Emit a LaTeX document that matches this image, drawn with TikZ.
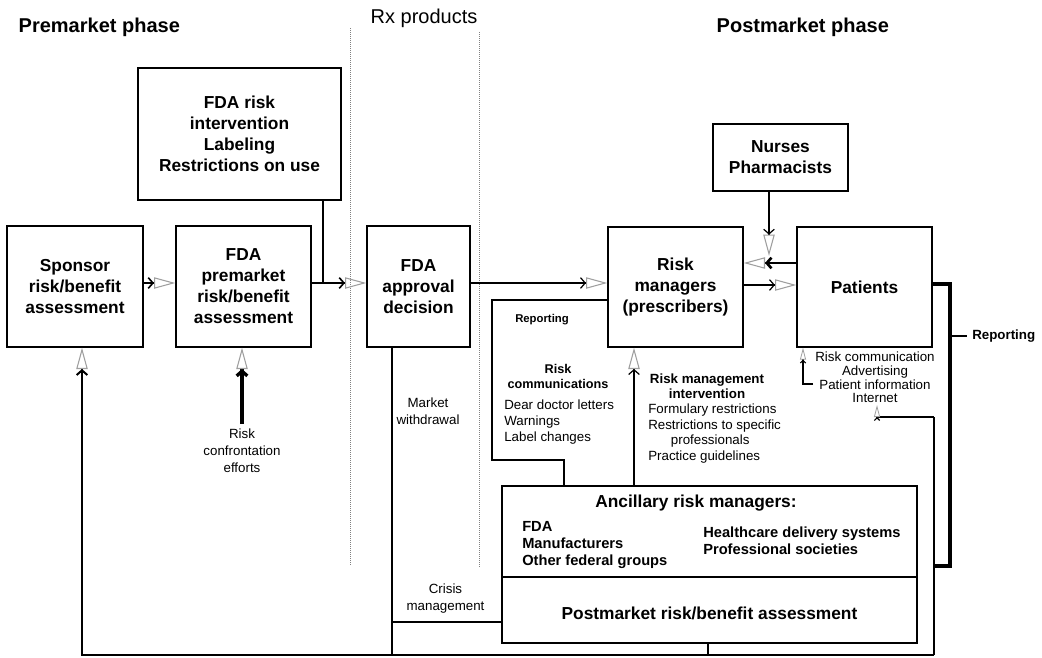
\documentclass[tikz,border=0pt]{standalone}
\usepackage{fontspec}
\setmainfont{Liberation Sans}
\usetikzlibrary{arrows.meta,positioning}

\tikzset{
  box/.style={draw, line width=1pt, align=center, inner sep=2pt,
    font=\fontsize{13}{15.75}\selectfont\bfseries},
  txt/.style={inner sep=0pt, align=center, font=\fontsize{10}{12.5}\selectfont},
  flow/.style={-{Straight Barb[length=3.5pt,width=8pt]Triangle[open,color=gray!75,length=16pt,width=8.5pt,line width=0.8pt]}},
  small flow/.style={-{Straight Barb[length=2pt,width=4pt]Triangle[open,color=gray!75,length=9pt,width=4.5pt,line width=0.6pt]}},
}

\begin{document}
\begin{tikzpicture}[x=0.75pt, y=-0.75pt]
		\useasboundingbox (0,0) rectangle (1042,657);
		
		% phase headings and separators
		\node [anchor=base west, font=\fontsize{15}{18}\selectfont\bfseries] (premarket) at (14,32) {Premarket phase};
		\node [anchor=base west, font=\fontsize{15}{18}\selectfont] (rx) at (366,23) {Rx products};
		\node [anchor=base west, font=\fontsize{15}{18}\selectfont\bfseries] (postmarket) at (712,32) {Postmarket phase};
		\draw [densely dotted, gray, line width=0.5pt] (350,28) -- (350,565);
		\draw [densely dotted, gray, line width=0.5pt] (479,32) -- (479,567);
		
		% boxes
		\node [box, minimum width=102pt, minimum height=90.75pt] (sponsor) at (75,286.5) {Sponsor\\risk/benefit\\assessment};
		\node [box, minimum width=101.25pt, minimum height=90.75pt] (fdapre) at (243.5,286.5) {FDA\\premarket\\risk/benefit\\assessment};
		\node [box, minimum width=152.25pt, minimum height=99pt] (intv) at (239.5,134) {FDA risk\\intervention\\Labeling\\Restrictions on use};
		\node [box, minimum width=77.25pt, minimum height=90.75pt] (approval) at (418.5,286.5) {FDA\\approval\\decision};
		\node [box, minimum width=101.25pt, minimum height=90pt] (rm) at (675.5,287) {Risk\\managers\\(prescribers)};
		\node [box, minimum width=101.25pt, minimum height=90pt] (patients) at (864.5,287) {Patients};
		\node [box, minimum width=101.25pt, minimum height=50.25pt] (nurses) at (780.5,157.5) {Nurses\\Pharmacists};
		\node [box, minimum width=311.25pt, minimum height=68.25pt] (ancillary) at (709.5,531.5) {};
		\node [box, minimum width=311.25pt, minimum height=49.5pt, text height=14pt, text depth=0pt] (postmkt) at (709.5,610) {Postmarket risk/benefit assessment};
		
		% labels
		\node [txt, font=\fontsize{10}{12.75}\selectfont] (confront) at (242,451) {Risk\\confrontation\\efforts};
		\node [txt, font=\fontsize{10}{12.75}\selectfont] (withdraw) at (428,411.5) {Market\\withdrawal};
		\node [txt, font=\fontsize{10}{12.75}\selectfont] (crisis) at (445.5,598.5) {Crisis\\management};
		\node [txt, font=\fontsize{8.5}{10}\selectfont\bfseries] (reportL) at (542,320) {Reporting};
		\node [txt, font=\fontsize{9.5}{11.25}\selectfont\bfseries] (rctitle) at (558,376.5) {Risk\\communications};
		\node [txt, align=left, anchor=west, font=\fontsize{10}{12}\selectfont] (rclist) at (504,422) {Dear doctor letters\\Warnings\\Label changes};
		\node [txt, font=\fontsize{10}{11.25}\selectfont\bfseries] (rmititle) at (707,386.5) {Risk management\\intervention};
		\node [txt, align=left, anchor=west, font=\fontsize{10}{11.8}\selectfont] (rmilist) at (648,433.5) {Formulary restrictions\\Restrictions to specific\\\hspace*{17pt}professionals\\Practice guidelines};
		\node [txt, font=\fontsize{10}{10.3}\selectfont] (ptext) at (875,377.5) {Risk communication\\Advertising\\Patient information\\Internet};
		\node [txt, anchor=west, font=\fontsize{10}{12}\selectfont\bfseries] (reportR) at (972,336) {Reporting};
		\node [txt, font=\fontsize{13}{16}\selectfont\bfseries] (anctitle) at (696,503) {Ancillary risk managers:};
		\node [txt, align=left, anchor=west, font=\fontsize{11}{12.75}\selectfont\bfseries] (anclist1) at (522,545) {FDA\\Manufacturers\\Other federal groups};
		\node [txt, align=left, anchor=west, font=\fontsize{11}{12.75}\selectfont\bfseries] (anclist2) at (703,540.5) {Healthcare delivery systems\\Professional societies};
		
		\coordinate (row) at (0,283);
		\coordinate (join) at (323,283);
		\coordinate (bl) at (82,655);
		\coordinate (br) at (934,655);
		\coordinate (inet) at (934,417);
		
		% premarket chain
		\draw[flow, line width=1.2pt]
		(sponsor.east |- row) -- (fdapre.west |- row);
		\draw[flow, line width=1.2pt]
		(fdapre.east |- row) -- (approval.west |- row);
		\draw[line width=2pt]
		(intv.south -| join) -- (join);
		\draw[flow, line width=2.5pt]
		([yshift=4pt]confront.north) -- (fdapre.south -| confront.north);
		
		% postmarket chain
		\draw[flow, line width=0.9pt]
		(approval.east |- row) -- (rm.west |- row);
		\draw[flow, line width=0.9pt]
		(rm.east |- 0,285) -- (patients.west |- 0,285);
		\draw[flow, line width=2pt]
		(patients.west |- 0,263) -- (rm.east |- 0,263);
		\draw[flow, line width=0.9pt]
		(nurses.south -| 769,0) -- (769,256);
		\draw[line width=3pt]
		(patients.east |- 0,284) -| (950,566) -- (br |- 0,566);
		\draw[line width=0.8pt]
		(952,336) -- ([xshift=-3.75pt]reportR.west);
		\draw[small flow, line width=0.8pt]
		(813,384) -| (patients.south -| 803,0);
		\draw[small flow, line width=0.8pt]
		(inet) -| (877,405);
		\draw[line width=0.9pt]
		(inet) -- (br);
		\draw[flow, line width=1.5pt]
		(br) -- (bl) -- (sponsor.south -| bl);
		
		% withdrawal, crisis and reporting paths
		\draw[line width=0.9pt]
		(approval.south -| 392,0) -- (392,655);
		\draw[line width=1.2pt]
		(392,622) -- (postmkt.west |- 0,622);
		\draw[line width=0.9pt]
		(postmkt.south -| 708,0) -- (708,655);
		\draw[line width=0.9pt]
		(ancillary.north -| 564,0) |- (492,460) |- (rm.west |- 0,300);
		\draw[flow, line width=0.9pt]
		(ancillary.north -| 634,0) -- (rm.south -| 634,0);
		
		\end{tikzpicture}
\end{document}
